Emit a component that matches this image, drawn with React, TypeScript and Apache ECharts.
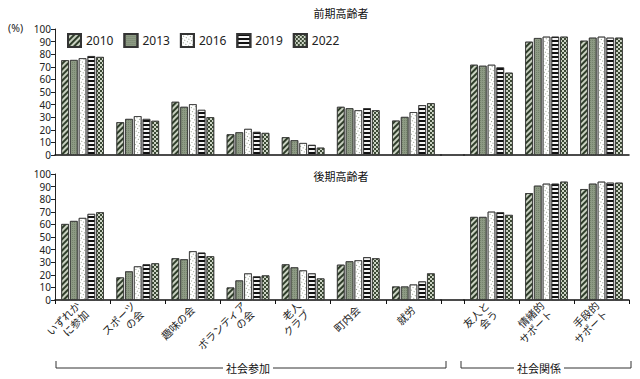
import React, { useEffect, useRef } from "react";
import * as echarts from "echarts";

const categories = [
  "いずれか\nに参加",
  "スポーツ\nの会",
  "趣味の会",
  "ボランティア\nの会",
  "老人\nクラブ",
  "町内会",
  "就労",
  "友人と\n会う",
  "情緒的\nサポート",
  "手段的\nサポート",
];
const participationCount = 7;
const years = ["2010", "2013", "2016", "2019", "2022"];
const yTicks = [0, 100, 10];

const early2010 = [75.2, 26.0, 42.2, 16.4, 14.1, 38.2, 27.3, 71.6, 89.9, 90.7];
const early2013 = [75.4, 28.6, 38.2, 18.0, 11.7, 37.1, 30.2, 70.8, 92.8, 93.1];
const early2016 = [76.8, 30.8, 40.3, 20.7, 9.5, 35.5, 34.0, 71.6, 93.9, 93.9];
const early2019 = [78.5, 28.6, 35.8, 18.3, 8.0, 37.1, 39.5, 69.5, 93.9, 93.1];
const early2022 = [77.8, 27.1, 30.0, 17.5, 5.8, 35.5, 41.1, 65.3, 93.9, 93.1];

const late2010 = [60.3, 17.9, 33.1, 9.9, 28.3, 28.0, 10.7, 65.9, 84.8, 88.0];
const late2013 = [62.7, 22.7, 32.3, 15.5, 25.9, 30.7, 10.7, 65.9, 90.7, 92.3];
const late2016 = [65.1, 26.7, 38.7, 21.1, 23.5, 31.5, 12.3, 70.1, 92.3, 93.9];
const late2019 = [68.3, 28.3, 37.6, 18.7, 21.1, 33.9, 14.7, 69.6, 92.3, 93.1];
const late2022 = [69.6, 29.1, 34.7, 19.5, 17.1, 33.1, 21.1, 67.5, 93.9, 93.1];

const panelTitles = ["前期高齢者", "後期高齢者"];
const groupLabels = ["社会参加", "社会関係"];

const FONT = "'Noto Sans', 'Noto Sans CJK JP', sans-serif";

const yearStyles: any[] = [
  {
    color: "#c9d1c1",
    decal: {
      symbol: "rect",
      symbolSize: 1,
      color: "#2f3d2a",
      dashArrayX: [1, 0],
      dashArrayY: [2, 2],
      rotation: -Math.PI / 4,
    },
  },
  {
    color: "#8d9a84",
    decal: {
      symbol: "rect",
      symbolSize: 1,
      color: "#75836c",
      dashArrayX: [1, 1],
      dashArrayY: [1, 1],
      rotation: 0,
    },
  },
  {
    color: "#ffffff",
    decal: {
      symbol: "rect",
      symbolSize: 1,
      color: "#8f9b87",
      dashArrayX: [1, 2],
      dashArrayY: [1, 2],
      rotation: Math.PI / 6,
    },
  },
  {
    color: "#f4f4f4",
    decal: {
      symbol: "rect",
      symbolSize: 1,
      color: "#111111",
      dashArrayX: [1, 0],
      dashArrayY: [2, 2],
      rotation: 0,
    },
  },
  {
    color: "#cdd4c6",
    decal: {
      symbol: "rect",
      symbolSize: 1,
      color: "#3b4934",
      dashArrayX: [
        [2, 2],
        [0, 2, 2, 0],
      ],
      dashArrayY: [2, 0],
      rotation: 0,
    },
  },
];

export default function App() {
  const ref = useRef<HTMLDivElement>(null);

  useEffect(() => {
    if (!ref.current) return;
    const chart = echarts.init(ref.current, undefined, { renderer: "svg" });

    const panels = [
      [early2010, early2013, early2016, early2019, early2022],
      [late2010, late2013, late2016, late2019, late2022],
    ];
    const panelTop = [29, 174];
    const plotH = 126;
    const segs = [
      { left: 55, width: 386 },
      { left: 441, width: 23 },
      { left: 464, width: 165 },
    ];
    const leftCats = categories.slice(0, participationCount);
    const rightCats = categories.slice(participationCount);

    const grid: any[] = [];
    const xAxis: any[] = [];
    const yAxis: any[] = [];
    const series: any[] = [];

    panels.forEach((panel, p) => {
      segs.forEach((s, k) => {
        const gi = p * 3 + k;
        grid.push({ left: s.left, width: s.width, top: panelTop[p], height: plotH });
        const data = k === 0 ? leftCats : k === 1 ? [""] : rightCats;
        xAxis.push({
          type: "category",
          gridIndex: gi,
          data,
          boundaryGap: true,
          axisLine: { show: true, lineStyle: { color: "#111", width: 1.5 } },
          axisTick: {
            show: p === 1,
            length: 4,
            inside: false,
            alignWithLabel: false,
            lineStyle: { color: "#111", width: 1 },
          },
          axisLabel: {
            show: p === 1 && k !== 1,
            interval: 0,
            rotate: 45,
            fontSize: 10.5,
            lineHeight: 12,
            color: "#222",
            fontFamily: FONT,
            margin: 8,
          },
          splitLine: { show: false },
        });
        yAxis.push({
          type: "value",
          gridIndex: gi,
          min: yTicks[0],
          max: yTicks[1],
          interval: yTicks[2],
          show: k === 0,
          axisLine: { show: true, lineStyle: { color: "#222", width: 1 } },
          axisTick: { show: true, length: 4, lineStyle: { color: "#222" } },
          axisLabel: {
            fontSize: 10,
            lineHeight: 10,
            color: "#222",
            fontFamily: FONT,
            margin: 4,
          },
          splitLine: { show: false },
        });
      });
      panel.forEach((vals, yi) => {
        const itemStyle = {
          ...yearStyles[yi],
          borderColor: "#333",
          borderWidth: 0.7,
        };
        series.push({
          type: "bar",
          name: years[yi],
          xAxisIndex: p * 3,
          yAxisIndex: p * 3,
          data: vals.slice(0, participationCount),
          barWidth: 7.6,
          barGap: "15%",
          itemStyle,
          emphasis: { disabled: true },
        });
        series.push({
          type: "bar",
          name: years[yi],
          xAxisIndex: p * 3 + 2,
          yAxisIndex: p * 3 + 2,
          data: vals.slice(participationCount),
          barWidth: 7.6,
          barGap: "15%",
          itemStyle,
          emphasis: { disabled: true },
        });
      });
    });

    const bracketY = 368;
    const graphic: any[] = [
      {
        type: "text",
        left: 8,
        top: 23,
        style: { text: "(%)", fontSize: 10.5, fill: "#222", fontFamily: FONT },
      },
      {
        type: "text",
        x: 341,
        y: 13,
        style: {
          text: panelTitles[0],
          fontSize: 11,
          fill: "#111",
          fontFamily: FONT,
          align: "center",
          verticalAlign: "middle",
        },
      },
      {
        type: "text",
        x: 341,
        y: 176,
        style: {
          text: panelTitles[1],
          fontSize: 11,
          fill: "#111",
          fontFamily: FONT,
          align: "center",
          verticalAlign: "middle",
        },
      },
      {
        type: "polyline",
        shape: {
          points: [
            [56, bracketY - 7],
            [56, bracketY],
            [446, bracketY],
            [446, bracketY - 7],
          ],
        },
        style: { stroke: "#333", lineWidth: 1, fill: "none" },
      },
      {
        type: "polyline",
        shape: {
          points: [
            [461, bracketY - 7],
            [461, bracketY],
            [631, bracketY],
            [631, bracketY - 7],
          ],
        },
        style: { stroke: "#333", lineWidth: 1, fill: "none" },
      },
      {
        type: "text",
        x: 248,
        y: bracketY,
        style: {
          text: groupLabels[0],
          fontSize: 11,
          fill: "#111",
          fontFamily: FONT,
          align: "center",
          verticalAlign: "middle",
          backgroundColor: "#fff",
          padding: [0, 3],
        },
      },
      {
        type: "text",
        x: 539,
        y: bracketY,
        style: {
          text: groupLabels[1],
          fontSize: 11,
          fill: "#111",
          fontFamily: FONT,
          align: "center",
          verticalAlign: "middle",
          backgroundColor: "#fff",
          padding: [0, 3],
        },
      },
    ];

    chart.setOption({
      animation: false,
      backgroundColor: "#fff",
      textStyle: { fontFamily: FONT },
      legend: {
        data: years.map((name) => ({ name, icon: "rect" })),
        left: 62,
        top: 28,
        itemWidth: 13,
        itemHeight: 13,
        itemGap: 10,
        textStyle: { fontSize: 12, color: "#222", fontFamily: FONT },
        selectedMode: false,
      },
      grid,
      xAxis,
      yAxis,
      series,
      graphic,
    });

    return () => chart.dispose();
  }, []);

  return (
    <div
      ref={ref}
      style={{ position: "absolute", left: 0, top: 0, width: 640, height: 379 }}
    />
  );
}
